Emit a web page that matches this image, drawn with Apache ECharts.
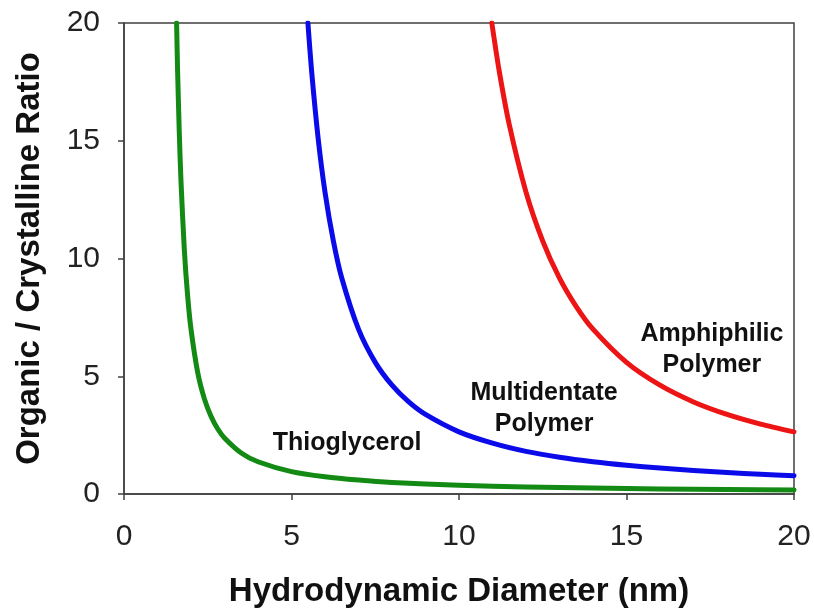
<!DOCTYPE html>
<html>
<head>
<meta charset="utf-8">
<script src="https://cdn.jsdelivr.net/npm/echarts@6/dist/echarts.min.js"></script>
<style>
  html, body { margin: 0; padding: 0; background: #ffffff; }
  #chart { width: 814px; height: 609px; }
</style>
</head>
<body>
<div id="chart"></div>
<script>
// Organic / crystalline volume ratio against hydrodynamic diameter for three coatings
var xTicks = [0, 5, 10, 15, 20];
var yTicks = [0, 5, 10, 15, 20];

var thioglycerol = [
  [1.57, 20.0], [1.6, 17.96], [1.65, 15.36], [1.7, 13.32], [1.8, 10.39],
  [1.9, 8.41], [2.0, 7.0], [2.2, 5.16], [2.4, 4.04], [2.6, 3.29],
  [2.8, 2.76], [3.0, 2.38], [3.5, 1.74], [4, 1.37], [5, 0.95],
  [6, 0.73], [7, 0.59], [8, 0.49], [10, 0.37], [12, 0.30],
  [14, 0.25], [16, 0.21], [18, 0.19], [20, 0.17]
];

var multidentate = [
  [5.49, 20.0], [5.6, 17.96], [5.8, 15.04], [6.0, 12.82], [6.25, 10.74],
  [6.5, 9.17], [7.0, 7.0], [7.5, 5.59], [8.0, 4.62], [8.5, 3.91],
  [9, 3.38], [10, 2.64], [11, 2.16], [12, 1.81], [13, 1.56],
  [14, 1.37], [15, 1.22], [16, 1.10], [17, 1.00], [18, 0.91],
  [19, 0.84], [20, 0.78]
];

var amphiphilic = [
  [10.98, 20.0], [11.2, 17.96], [11.5, 15.69], [12.0, 12.82], [12.5, 10.74],
  [13.0, 9.17], [13.5, 7.96], [14, 7.0], [15, 5.59], [16, 4.62],
  [17, 3.91], [18, 3.38], [19, 2.97], [20, 2.64]
];

var curveNames = ['Thioglycerol', 'Multidentate\nPolymer', 'Amphiphilic\nPolymer'];
// label anchors in data units (diameter, ratio)
var labelAnchors = [[6.66, 2.17], [12.54, 3.62], [17.55, 6.13]];

var FONT = 'Arial, "Liberation Sans", Helvetica, sans-serif';
var AXIS_COLOR = '#404040';

function curve(name, data, color) {
  return {
    name: name,
    type: 'line',
    data: data,
    smooth: 0.25,
    showSymbol: false,
    symbol: 'none',
    lineStyle: { color: color, width: 5, cap: 'round', join: 'round' },
    z: 3
  };
}

var chart = echarts.init(document.getElementById('chart'), null, { renderer: 'canvas' });

chart.setOption({
  backgroundColor: '#ffffff',
  animation: false,
  grid: {
    left: 124, top: 23, right: 20, bottom: 115,
    outerBoundsMode: 'none',
    containLabel: false,
    show: true, borderColor: AXIS_COLOR, borderWidth: 1.5, backgroundColor: 'transparent'
  },
  xAxis: {
    type: 'value',
    min: xTicks[0], max: xTicks[xTicks.length - 1], interval: 5,
    name: 'Hydrodynamic Diameter (nm)',
    nameLocation: 'middle',
    nameGap: 81,
    nameTextStyle: { fontFamily: FONT, fontSize: 33, fontWeight: 'bold', color: '#111' },
    axisLine: { show: true, onZero: false, lineStyle: { color: AXIS_COLOR, width: 1.5 } },
    axisTick: { show: true, inside: false, length: 6, lineStyle: { color: AXIS_COLOR, width: 1.5 } },
    axisLabel: { fontFamily: FONT, fontSize: 30, color: '#222', margin: 28 },
    splitLine: { show: false }
  },
  yAxis: {
    type: 'value',
    min: yTicks[0], max: yTicks[yTicks.length - 1], interval: 5,
    name: 'Organic / Crystalline Ratio',
    nameLocation: 'middle',
    nameGap: 78,
    nameRotate: 90,
    nameTextStyle: { fontFamily: FONT, fontSize: 33, fontWeight: 'bold', color: '#111' },
    axisLine: { show: true, onZero: false, lineStyle: { color: AXIS_COLOR, width: 1.5 } },
    axisTick: { show: true, inside: false, length: 6, lineStyle: { color: AXIS_COLOR, width: 1.5 } },
    axisLabel: { fontFamily: FONT, fontSize: 30, color: '#222', margin: 24 },
    splitLine: { show: false }
  },
  series: [
    curve('Thioglycerol', thioglycerol, '#138a13'),
    curve('Multidentate Polymer', multidentate, '#0b0bea'),
    curve('Amphiphilic Polymer', amphiphilic, '#ec1414'),
    {
      name: 'labels',
      type: 'scatter',
      symbolSize: 0,
      silent: true,
      z: 4,
      itemStyle: { opacity: 1 },
      data: labelAnchors.map(function (p, i) {
        return { value: p, name: curveNames[i] };
      }),
      label: {
        show: true,
        position: 'inside',
        formatter: function (p) { return p.name; },
        fontFamily: FONT,
        fontSize: 25,
        fontWeight: 'bold',
        color: '#111',
        opacity: 1,
        textBorderWidth: 0,
        lineHeight: 31,
        align: 'center',
        verticalAlign: 'middle'
      }
    }
  ]
});
</script>
</body>
</html>
